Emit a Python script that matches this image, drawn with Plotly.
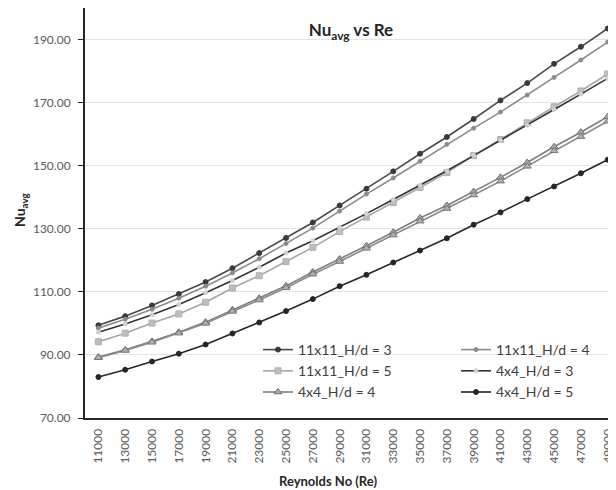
import plotly.graph_objects as go

reynolds = ["11000", "13000", "15000", "17000", "19000", "21000", "23000", "25000", "27000", "29000",
            "31000", "33000", "35000", "37000", "39000", "41000", "43000", "45000", "47000", "49000"]

nu_11x11_hd3 = [99.4, 102.3, 105.7, 109.3, 113.1, 117.5, 122.3, 127.1, 132.0, 137.4,
                142.7, 148.2, 153.8, 159.1, 164.8, 170.7, 176.2, 182.3, 187.7, 193.5]
nu_11x11_hd4 = [98.5, 101.3, 104.5, 108.0, 111.8, 116.0, 120.5, 125.3, 130.2, 135.6,
                141.0, 146.1, 151.4, 156.8, 161.9, 167.0, 172.4, 178.0, 183.5, 189.2]
nu_11x11_hd5 = [94.2, 96.9, 100.1, 103.0, 106.7, 111.2, 115.1, 119.6, 124.1, 129.1,
                133.7, 138.3, 143.1, 147.8, 153.2, 158.3, 163.6, 168.7, 173.7, 179.1]
nu_4x4_hd3 = [97.2, 99.8, 102.7, 106.0, 109.7, 113.6, 117.8, 122.3, 126.2, 130.4,
              134.8, 139.3, 143.8, 148.4, 153.2, 158.0, 162.8, 167.8, 172.7, 177.7]
nu_4x4_hd4 = [89.3, 91.6, 94.3, 97.2, 100.4, 104.3, 108.0, 111.9, 116.3, 120.4,
              124.6, 128.9, 133.4, 137.4, 141.8, 146.3, 151.0, 156.0, 160.6, 165.5]
nu_4x4_hd4_b = [89.1, 91.4, 94.0, 96.9, 100.0, 103.8, 107.4, 111.3, 115.6, 119.6,
                123.8, 128.0, 132.4, 136.4, 140.7, 145.1, 149.8, 154.7, 159.2, 164.1]
nu_4x4_hd5 = [83.0, 85.3, 87.9, 90.4, 93.3, 96.8, 100.3, 103.9, 107.7, 111.8,
              115.4, 119.3, 123.1, 127.0, 131.3, 135.2, 139.4, 143.4, 147.6, 151.9]

y_ticks = [70, 90, 110, 130, 150, 170, 190]

FONT = "Lato"
fig = go.Figure()

def add(name, y, color, msym, msize, mcolor, mline, legend, show=True, lw=1.6):
    fig.add_trace(go.Scatter(
        x=reynolds, y=y, name=name, mode="lines+markers",
        line=dict(color=color, width=lw),
        marker=dict(symbol=msym, size=msize, color=mcolor, line=dict(color=mline, width=1)),
        legend=legend, showlegend=show))

add("11x11_H/d = 3", nu_11x11_hd3, "#4a4a4a", "circle", 5, "#3a3a3a", "#3a3a3a", "legend")
add("11x11_H/d = 5", nu_11x11_hd5, "#a6a6a6", "square", 6, "#bdbdbd", "#b0b0b0", "legend")
add("4x4_H/d = 4", nu_4x4_hd4, "#7f7f7f", "triangle-up", 7, "#a8a8a8", "#6e6e6e", "legend")
add("11x11_H/d = 4", nu_11x11_hd4, "#8c8c8c", "circle", 4, "#8c8c8c", "#8c8c8c", "legend2")
add("4x4_H/d = 3", nu_4x4_hd3, "#333333", "circle", 4, "#d0d0d0", "#d0d0d0", "legend2")
add("4x4_H/d = 5", nu_4x4_hd5, "#262626", "circle", 5, "#262626", "#262626", "legend2")
add("4x4_H/d = 4 ", nu_4x4_hd4_b, "#8a8a8a", "triangle-up", 7, "#b0b0b0", "#777777", "legend", show=False)

legend_common = dict(font=dict(family=FONT, size=14, color="#404040"), bgcolor="rgba(0,0,0,0)",
                     orientation="v", xanchor="left", yanchor="top", tracegroupgap=0,
                     itemwidth=30)

# page body has an 8px margin, so the figure is drawn 8px right/down of the window corner
W, H = 608, 482
fig.update_layout(
    width=W, height=H,
    margin=dict(l=77, r=0, t=0, b=72, autoexpand=False),
    paper_bgcolor="white", plot_bgcolor="white",
    font=dict(family=FONT, color="#595959"),
    title=dict(text="<b>Nu<sub>avg</sub> vs Re</b>", x=343/W, xanchor="center",
               xref="container", y=1-22/H, yref="container", yanchor="middle",
               automargin=False,
               font=dict(family=FONT, size=17, color="#262626")),
    xaxis=dict(type="category", range=[-0.5, 19.31], showgrid=False, automargin=False,
               showline=True, linecolor="#262626", linewidth=2,
               ticks="", tickangle=-90, tickfont=dict(family=FONT, size=12, color="#595959"),
               ticklabelstandoff=4, zeroline=False),
    yaxis=dict(range=[70, 200], tickvals=y_ticks, tickformat=".2f", automargin=False,
               showgrid=True, gridcolor="#e4e4e4", gridwidth=1,
               showline=True, linecolor="#262626", linewidth=2,
               ticks="outside", ticklen=5, tickcolor="#262626", ticklabelstandoff=5,
               tickfont=dict(family=FONT, size=12, color="#595959"), zeroline=False),
    legend=dict(x=(258-85)/531, y=(418-334)/410, **legend_common),
    legend2=dict(x=(456-85)/531, y=(418-334)/410, **legend_common),
    annotations=[
        dict(text="<b>Nu<sub>avg</sub></b>", xref="paper", yref="paper",
             x=(20-85)/531, y=(418-210)/410, textangle=-90, showarrow=False,
             xanchor="center", yanchor="middle", font=dict(family=FONT, size=14, color="#262626")),
        dict(text="<b>Reynolds No (Re)</b>", xref="paper", yref="paper",
             x=(328-85)/531, y=(418-481)/410, showarrow=False,
             xanchor="center", yanchor="middle", font=dict(family=FONT, size=13, color="#262626")),
    ],
)

fig.write_html("out.html")
